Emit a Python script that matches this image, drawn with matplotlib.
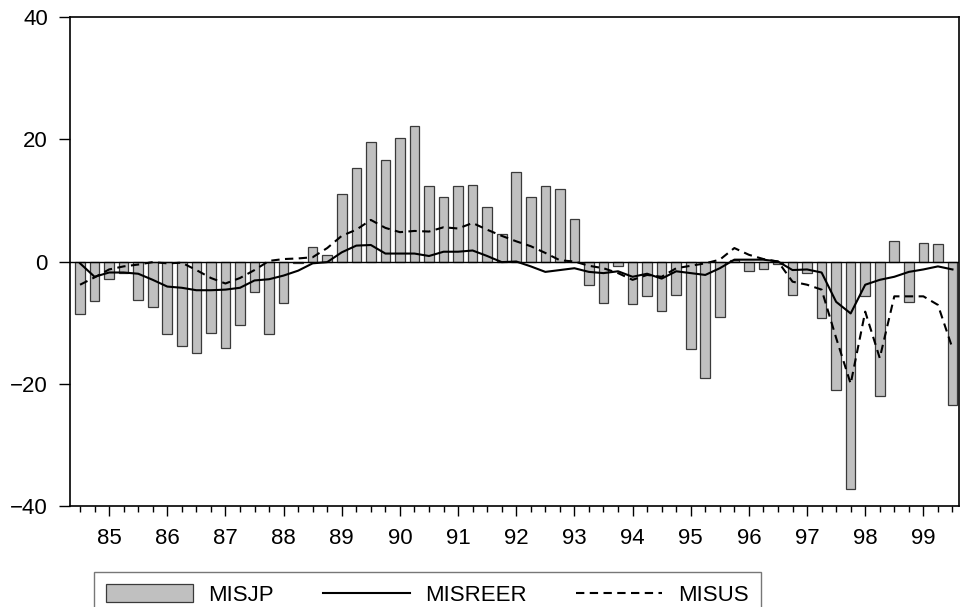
import matplotlib
matplotlib.use("Agg")
import matplotlib.pyplot as plt
import numpy as np

plt.rcParams['font.family'] = ['Liberation Sans', 'DejaVu Sans']

year_labels = ['85', '86', '87', '88', '89', '90', '91', '92', '93', '94', '95', '96', '97', '98', '99']

misjp = [-8.6, -6.5, -2.8, -1.9, -6.3, -7.4, -11.9, -13.9, -15.0, -11.7,
         -14.2, -10.4, -5.0, -11.9, -6.8, -0.3, 2.4, 1.0, 11.0, 15.3,
         19.6, 16.6, 20.2, 22.2, 12.4, 10.5, 12.3, 12.5, 8.9, 4.5,
         14.6, 10.5, 12.4, 11.9, 7.0, -3.9, -6.8, -0.7, -6.9, -5.7,
         -8.1, -5.4, -14.3, -19.1, -9.1, 0.2, -1.6, -1.2, -0.4, -5.5,
         -1.8, -9.2, -21.1, -37.3, -5.6, -22.0, 3.4, -6.7, 3.1, 2.8,
         -23.5]

misreer = [-0.3, -2.5, -1.8, -1.8, -2.0, -3.0, -4.1, -4.3, -4.7, -4.7,
           -4.6, -4.3, -3.1, -2.9, -2.3, -1.5, -0.3, -0.1, 1.5, 2.6,
           2.7, 1.3, 1.3, 1.3, 0.9, 1.6, 1.6, 1.8, 0.9, -0.1,
           0.0, -0.8, -1.7, -1.4, -1.1, -1.7, -1.9, -1.6, -2.5, -2.0,
           -2.8, -1.6, -1.9, -2.2, -1.1, 0.3, 0.3, 0.3, 0.0, -1.4,
           -1.3, -1.8, -6.6, -8.5, -3.8, -3.0, -2.5, -1.7, -1.3, -0.8,
           -1.3]

misus = [-3.8, -2.6, -1.3, -0.8, -0.5, -0.1, -0.3, -0.2, -1.4, -2.7,
         -3.6, -2.7, -1.4, 0.1, 0.4, 0.5, 0.7, 2.2, 4.2, 5.2,
         6.8, 5.5, 4.8, 5.0, 4.9, 5.6, 5.4, 6.3, 5.2, 4.2,
         3.3, 2.5, 1.4, 0.2, 0.0, -0.7, -1.1, -1.9, -3.0, -2.2,
         -2.5, -1.1, -0.7, -0.3, 0.3, 2.2, 1.1, 0.4, 0.0, -3.3,
         -3.8, -4.6, -12.5, -20.0, -8.2, -15.8, -5.7, -5.7, -5.7, -7.1,
         -14.2]

x = np.arange(len(misjp))

fig = plt.figure(figsize=(9.64, 6.07), dpi=100)
ax = fig.add_axes([70/964, 1-506/607, (959-70)/964, (506-17)/607])

bars = ax.bar(x, misjp, width=0.66, color='#c0c0c0', edgecolor='#3a3a3a', linewidth=0.9,
              label='MISJP', zorder=2)
ax.axhline(0, color='black', linewidth=1.0, zorder=3)
l1, = ax.plot(x, misreer, color='black', linewidth=1.5, label='MISREER', zorder=4)
l2, = ax.plot(x, misus, color='black', linewidth=1.5, linestyle=(0, (4, 2.6)),
              label='MISUS', zorder=4)

ax.set_xlim(-0.69, 60.45)
ax.set_ylim(-40, 40)
ax.set_yticks([-40, -20, 0, 20, 40])
ax.set_yticklabels(['\u221240', '\u221220', '0', '20', '40'])

major_pos = [2 + 4 * i for i in range(len(year_labels))]
ax.set_xticks(major_pos)
ax.set_xticklabels(year_labels)
ax.set_xticks(x, minor=True)

ax.tick_params(axis='y', which='major', direction='out', length=8, width=1,
               labelsize=16, pad=8)
ax.tick_params(axis='x', which='major', direction='out', length=7.5, width=1,
               labelsize=16, pad=8)
ax.tick_params(axis='x', which='minor', direction='out', length=4, width=1)

for s in ax.spines.values():
    s.set_linewidth(1.2)
    s.set_color('black')

leg = fig.legend(handles=[bars, l1, l2], labels=['MISJP', 'MISREER', 'MISUS'],
                 loc='upper left', bbox_to_anchor=(94/964, 1-572/607), ncol=3,
                 fontsize=16, frameon=True, fancybox=False, edgecolor='#555555',
                 handlelength=3.9, handleheight=0.85, handletextpad=0.7,
                 columnspacing=2.2, borderpad=0.55, borderaxespad=0)
leg.get_frame().set_linewidth(1.0)

fig.savefig('out.png', dpi=100)
